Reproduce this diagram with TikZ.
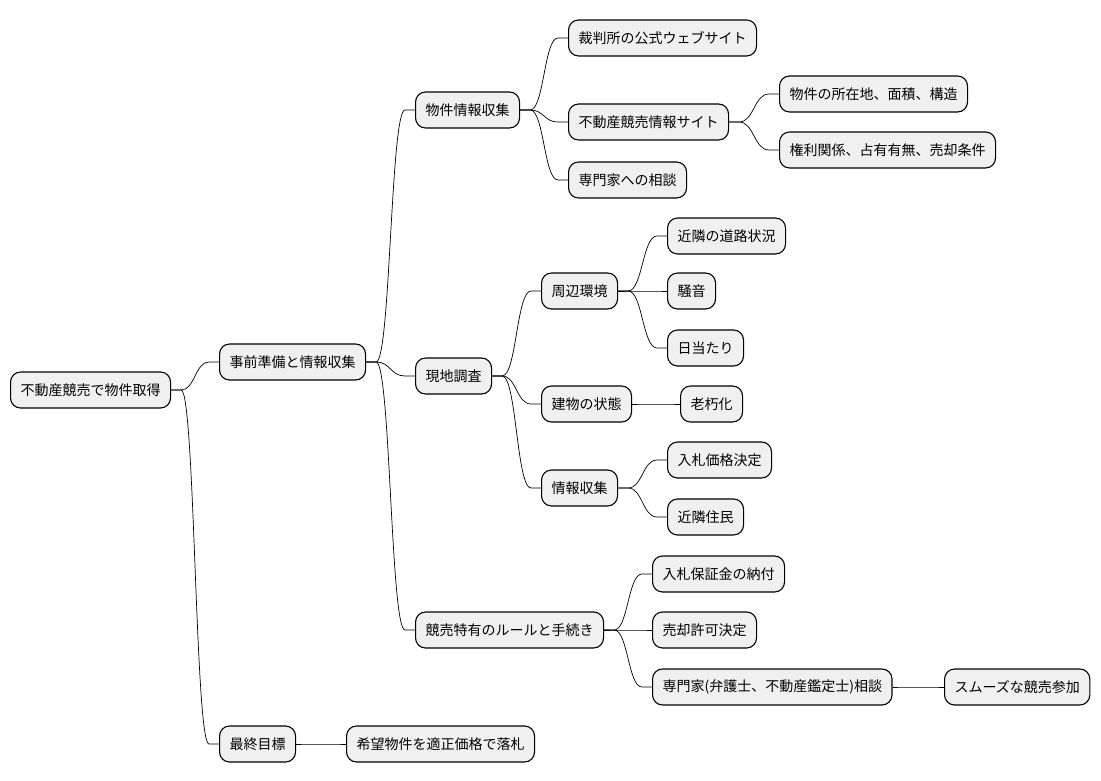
\documentclass[tikz,border=0pt]{standalone}
\usepackage{fontspec}
\newfontfamily\jp{Noto Sans CJK JP}
\usetikzlibrary{calc}
\tikzset{
  mm/.style={draw=black, line width=1.1pt, fill=gray!12, rounded corners=10pt,
    minimum height=36pt, inner xsep=10pt, inner ysep=0pt, anchor=west,
    font=\jp\fontsize{14}{16}\selectfont, text=black},
  link/.style={draw=black, line width=0.7pt}
}
\newcommand\conn[2]{%
  \coordinate (cA) at ($(#1.east)+(10,0)$);
  \coordinate (cB) at ($(#2.west)+(-10,0)$);
  \coordinate (cM) at ($(cA)!0.5!(cB)$);
  \draw[link] (#1.east) -- (cA) .. controls (cA -| cM) and (cB -| cM) .. (cB) -- (#2.west);}
\begin{document}
\begin{tikzpicture}[x=1pt,y=-1pt]
\useasboundingbox (0,0) rectangle (1101,781);
\node[mm] (root) at (10,390) {不動産競売で物件取得};
\node[mm] (prep) at (219,362) {事前準備と情報収集};
\node[mm] (goal) at (219,744) {最終目標};
\node[mm] (bid) at (346,744) {希望物件を適正価格で落札};
\node[mm] (info) at (415,110) {物件情報収集};
\node[mm] (site) at (415,376) {現地調査};
\node[mm] (rule) at (415,630) {競売特有のルールと手続き};
\node[mm] (court) at (568,38) {裁判所の公式ウェブサイト};
\node[mm] (auct) at (568,122) {不動産競売情報サイト};
\node[mm] (expert) at (568,180) {専門家への相談};
\node[mm] (loc) at (779,94) {物件の所在地、面積、構造};
\node[mm] (right) at (779,150) {権利関係、占有有無、売却条件};
\node[mm] (env) at (541,291) {周辺環境};
\node[mm] (bldg) at (541,404) {建物の状態};
\node[mm] (gather) at (541,488) {情報収集};
\node[mm] (road) at (667,236) {近隣の道路状況};
\node[mm] (noise) at (667,291) {騒音};
\node[mm] (sun) at (667,348) {日当たり};
\node[mm] (aging) at (680,404) {老朽化};
\node[mm] (price) at (667,460) {入札価格決定};
\node[mm] (neigh) at (667,517) {近隣住民};
\node[mm] (deposit) at (652,574) {入札保証金の納付};
\node[mm] (permit) at (652,630) {売却許可決定};
\node[mm] (consult) at (652,687) {専門家(弁護士、不動産鑑定士)相談};
\node[mm] (smooth) at (944,687) {スムーズな競売参加};
\conn{root}{prep}
\conn{root}{goal}
\conn{goal}{bid}
\conn{prep}{info}
\conn{prep}{site}
\conn{prep}{rule}
\conn{info}{court}
\conn{info}{auct}
\conn{info}{expert}
\conn{auct}{loc}
\conn{auct}{right}
\conn{site}{env}
\conn{site}{bldg}
\conn{site}{gather}
\conn{env}{road}
\conn{env}{noise}
\conn{env}{sun}
\conn{bldg}{aging}
\conn{gather}{price}
\conn{gather}{neigh}
\conn{rule}{deposit}
\conn{rule}{permit}
\conn{rule}{consult}
\conn{consult}{smooth}
\end{tikzpicture}
\end{document}
